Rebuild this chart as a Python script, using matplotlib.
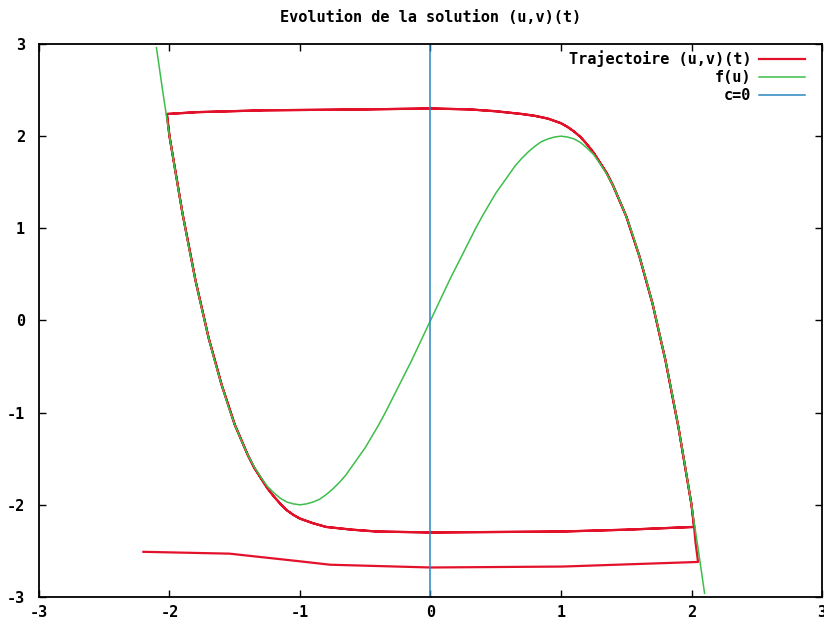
import matplotlib
matplotlib.use("Agg")
import matplotlib.pyplot as plt

# f(u)
f_u = [-2.10, -2.05, -2.00, -1.95, -1.90, -1.85, -1.80, -1.75, -1.70, -1.65,
       -1.60, -1.55, -1.50, -1.45, -1.40, -1.35, -1.30, -1.25, -1.20, -1.15,
       -1.10, -1.05, -1.00, -0.95, -0.90, -0.85, -0.80, -0.75, -0.70, -0.65,
       -0.60, -0.55, -0.50, -0.45, -0.40, -0.35, -0.30, -0.25, -0.20, -0.15,
       -0.10, -0.05, 0.00, 0.05, 0.10, 0.15, 0.20, 0.25, 0.30, 0.35,
       0.40, 0.45, 0.50, 0.55, 0.60, 0.65, 0.70, 0.75, 0.80, 0.85,
       0.90, 0.95, 1.00, 1.05, 1.10, 1.15, 1.20, 1.25, 1.30, 1.35,
       1.40, 1.45, 1.50, 1.55, 1.60, 1.65, 1.70, 1.75, 1.80, 1.85,
       1.90, 1.95, 2.00, 2.05, 2.10]
f_v = [2.96, 2.47, 2.00, 1.57, 1.16, 0.78, 0.43, 0.11, -0.19, -0.46,
       -0.70, -0.93, -1.13, -1.30, -1.46, -1.59, -1.70, -1.80, -1.87, -1.93,
       -1.97, -1.99, -2.00, -1.99, -1.97, -1.94, -1.89, -1.83, -1.76, -1.68,
       -1.58, -1.48, -1.38, -1.26, -1.14, -1.01, -0.87, -0.73, -0.59, -0.45,
       -0.30, -0.15, 0.00, 0.15, 0.30, 0.45, 0.59, 0.73, 0.87, 1.01,
       1.14, 1.26, 1.38, 1.48, 1.58, 1.68, 1.76, 1.83, 1.89, 1.94,
       1.97, 1.99, 2.00, 1.99, 1.97, 1.93, 1.87, 1.80, 1.70, 1.59,
       1.46, 1.30, 1.13, 0.93, 0.70, 0.46, 0.19, -0.11, -0.43, -0.78,
       -1.16, -1.57, -2.00, -2.47, -2.96]

# trajectoire : depart puis cycle limite (parcouru deux fois)
start_u = [-2.20, -1.54, -1.02, -0.77, 0.0, 1.01, 2.05, 2.03]
start_v = [-2.51, -2.53, -2.61, -2.65, -2.68, -2.67, -2.62, -2.40]
cycle_u = [2.02, 2.0, 1.9, 1.8, 1.7, 1.6, 1.5, 1.4, 1.35, 1.3, 1.25, 1.2, 1.15,
           1.1, 1.05, 1.0, 0.9, 0.8, 0.7, 0.5, 0.3, 0.0, -0.5, -1.28, -1.79, -2.02,
           -2.0, -1.9, -1.8, -1.7, -1.6, -1.5, -1.4, -1.35, -1.3, -1.25, -1.2, -1.15,
           -1.1, -1.05, -1.0, -0.9, -0.8, -0.6, -0.41, 0.0, 1.0, 1.5, 2.02]
cycle_v = [-2.24, -2.0, -1.16, -0.43, 0.19, 0.70, 1.13, 1.46, 1.60, 1.71, 1.82, 1.91, 1.99,
           2.05, 2.10, 2.14, 2.19, 2.22, 2.24, 2.27, 2.29, 2.30, 2.29, 2.28, 2.26, 2.24,
           2.0, 1.16, 0.43, -0.19, -0.70, -1.13, -1.46, -1.60, -1.71, -1.82, -1.91, -1.99,
           -2.06, -2.11, -2.15, -2.20, -2.24, -2.27, -2.29, -2.30, -2.29, -2.27, -2.24]
traj_u = start_u + cycle_u + cycle_u
traj_v = start_v + cycle_v + cycle_v

c_u = [0, 0]
c_v = [-3, 3]

ticks = [-3, -2, -1, 0, 1, 2, 3]

plt.rcParams['font.family'] = ['DejaVu Sans Mono', 'DejaVu Sans']
plt.rcParams['font.weight'] = 'bold'
plt.rcParams['axes.unicode_minus'] = False

fig = plt.figure(figsize=(8.24, 6.28), dpi=100)
ax = fig.add_axes([0.0473, 0.0494, 0.9503, 0.8806])

ax.plot(traj_u, traj_v, color='#e3122b', lw=1.6, label='Trajectoire (u,v)(t)')
ax.plot(f_u, f_v, color='#3cbf4a', lw=1.1, label='f(u)')
ax.plot(c_u, c_v, color='#2a86c0', lw=1.1, label='c=0')

ax.set_xlim(-3, 3)
ax.set_ylim(-3, 3)
ax.set_xticks(ticks)
ax.set_yticks(ticks)
ax.tick_params(direction='in', length=5, width=1, top=True, right=True,
               labelsize=11, pad=6)
ax.tick_params(axis='y', pad=10)
for s in ax.spines.values():
    s.set_linewidth(1.3)

ax.set_title('Evolution de la solution (u,v)(t)', fontsize=11, fontweight='bold', pad=16)

ax.legend(loc='upper right', bbox_to_anchor=(0.9936, 1.011), frameon=False,
          markerfirst=False, handlelength=3.0, handletextpad=0.5,
          labelspacing=0.2, borderaxespad=0.4, prop={'weight': 'bold', 'size': 11})

fig.savefig('out.png', dpi=100)
